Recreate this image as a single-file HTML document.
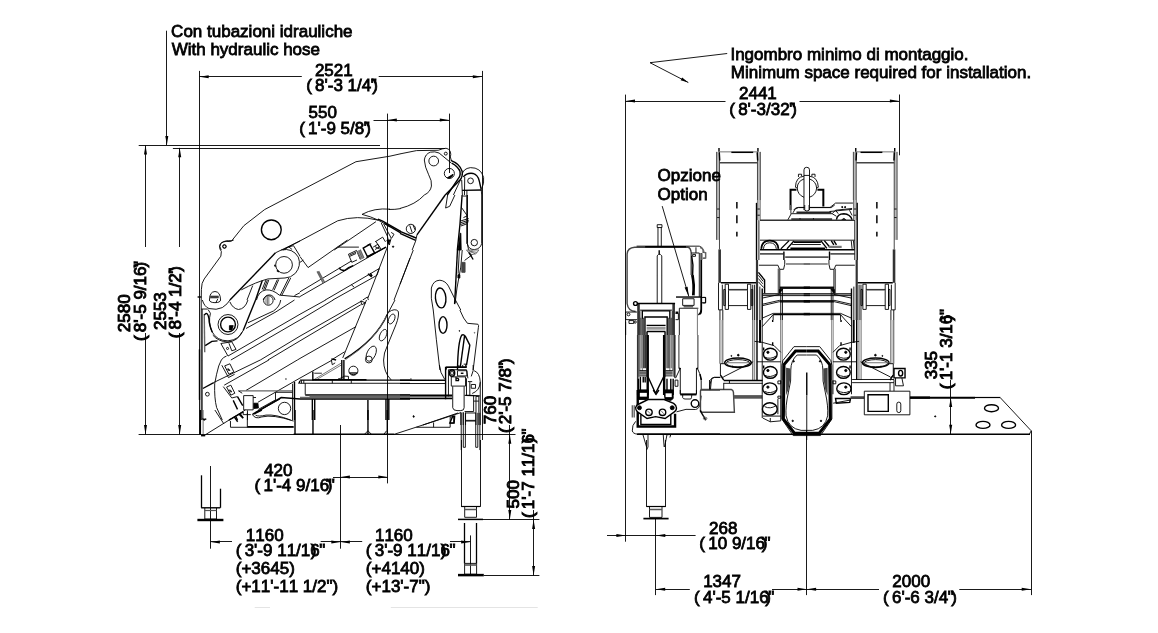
<!DOCTYPE html>
<html><head><meta charset="utf-8"><title>Dimensions</title>
<style>
html,body{margin:0;padding:0;background:#fff;overflow:hidden}
svg{display:block;will-change:transform}
text{font-family:"Liberation Sans",Arial,Helvetica,sans-serif;fill:#000;stroke:#000;stroke-width:0.8px;white-space:pre;font-kerning:none;font-variant-ligatures:none}
path,line,circle,ellipse,rect,polyline,polygon{fill:none;stroke:#000;stroke-width:0.9;vector-effect:non-scaling-stroke}
.k path,.k circle,.k ellipse,.k rect,.k polyline,path.k,circle.k,ellipse.k,rect.k,polyline.k{stroke-width:1.4}
text.r{stroke-width:0.92px}
.f{fill:#000 !important}
path.a{fill:#000;stroke:none}
.w{fill:#fff !important}
.g{stroke:#666 !important}
</style></head><body>
<svg width="1158" height="633" viewBox="0 0 1158 633">
<rect x="0" y="0" width="1158" height="633" style="fill:#fff;stroke:none"/>
<g id="tiles">
<g transform="translate(610 215) scale(0.094991)">
<path d="M180 632 L180 410 Q185 345 260 340 L820 340 Q850 345 855 400 L855 632" class="k" style="stroke:#444"/>
<path d="M280 328 L940 328 Q975 335 980 370 L980 400"/>
<path d="M370 335 L800 335" class="k"/>
<path d="M505 335 L505 130 M540 130 L540 335"/>
<path d="M497 102 L547 102 L547 132 L497 132Z"/>
<path d="M497 632 L497 430 L510 415 L530 415 L545 430 L545 632"/>
<path d="M518 370 L518 410" class="k"/>
<path d="M905 340 L905 400 M855 400 L940 400 L940 632 M980 395 L1005 395 L1005 455 L980 455"/>
<path d="M960 400 L960 632" class="k"/>
<path d="M870 415 L900 415 L900 435 L870 435Z"/>
<path d="M860 430 Q882 530 870 632" class="k"/>
</g>

<g transform="translate(610 275) scale(0.094991)">
<path d="M180 0 L180 300 Q190 380 270 385" class="k" style="stroke:#444"/>
<path d="M497 0 L497 295 M545 0 L545 295"/>
<path d="M695 232 L960 232" class="k"/>
<path d="M765 250 L885 250 L885 320 L765 320Z M730 350 L930 350 M775 335 L875 335"/>
<path d="M730 350 L730 632"/>
<path d="M920 350 L920 632" class="g"/>
<path d="M860 0 Q882 100 870 215 M875 0 Q895 100 885 215" class="k"/>
<path d="M940 0 L940 230"/>
<path d="M960 0 L960 350 Q960 400 930 420" class="k"/>
<path d="M975 235 L1005 235 L1005 295 L975 295"/>
<path d="M300 632 L300 300 M670 300 L670 632" style="stroke-width:2.6;stroke:#333"/>
<path d="M285 300 L685 300" class="k"/>
<path d="M315 370 L655 370"/>
<path d="M340 632 L340 378 L630 378 L630 632" class="k"/>
<path d="M368 632 L368 442 L602 442 L602 632" class="k"/>
<path d="M385 560 L585 560" style="stroke-width:3;stroke:#999"/>
<path d="M385 530 L585 530 M385 595 L585 595" class="k"/>
<circle cx="268" cy="300" r="20" class="k"/>
<circle cx="195" cy="415" r="15"/>
<path d="M285 390 L165 390 L165 470 L285 470"/>
<path d="M200 480 L250 480 L250 510 L200 510Z"/>
<circle cx="265" cy="495" r="12"/>
<path d="M165 490 L165 632"/>
<path d="M690 395 L720 395" style="stroke-width:2"/>
<path d="M690 405 L720 405 L720 470 L690 470"/>
<path d="M315 380 L315 632 M325 450 L325 632 M352 450 L352 632 M385 600 L385 632 M395 600 L395 632 M655 380 L655 632 M645 450 L645 632 M618 450 L618 632 M585 600 L585 632 M575 600 L575 632" style="stroke:#222"/>
<path d="M345 460 L345 632 M628 460 L628 632" style="stroke:#555;stroke-width:2"/>
</g>

<g transform="translate(610 335) scale(0.094991)">
<path d="M292 0 L292 632 M682 0 L682 450" style="stroke-width:1.6;stroke:#333"/>
<path d="M315 0 L315 380 M340 0 L340 380 M660 0 L660 380 M630 0 L630 380" class="g"/>
<path d="M328 0 L328 350 M645 0 L645 350" style="stroke:#888;stroke-width:1.6"/>
<path d="M375 0 L375 350 M600 0 L600 350" />
<path d="M397 0 L397 632 M570 0 L570 632" style="stroke-width:2.4"/>
<path d="M310 400 L390 400 M580 400 L660 400" style="stroke-width:3.4;stroke:#666"/>
<path d="M310 375 L390 375 M580 375 L660 375 M310 430 L390 430 M580 430 L660 430" />
<path d="M400 440 L480 615 L565 440" class="k"/>
<path d="M320 440 L320 580 M350 440 L350 500 M370 440 L370 500 M600 460 L600 580 M640 460 L640 580" class="k"/>
<path d="M300 585 L395 585 M570 585 L665 585" class="k"/>
<path d="M300 460 L300 632 M665 460 L665 632" class="k"/>
<path d="M725 0 L725 350 M925 0 L925 350" class="g" style="stroke-width:1.4"/>
<path d="M740 350 L740 620 M910 350 L910 620 M690 455 L740 350"/>
<path d="M740 626 L910 626" style="stroke-width:2"/>
<path d="M920 350 Q950 400 960 480 L960 580 L1158 580"/>
<path d="M1050 580 Q1050 450 1100 445 L1158 445"/>
<path d="M685 475 L715 475 L715 540 L685 540Z"/>
<circle cx="735" cy="352" r="6" class="f"/><circle cx="918" cy="352" r="6" class="f"/>
<path d="M305 0 L305 440 M352 0 L352 350 M362 0 L362 350 M386 0 L386 440 M582 0 L582 440 M612 0 L612 350 M622 0 L622 350 M672 0 L672 440" style="stroke:#222"/>
</g>

<g transform="translate(610 390) scale(0.094991)">
<path d="M292 0 L292 385 L685 385 L685 250" style="stroke-width:2.4"/>
<path d="M325 260 L325 362 L640 362 L640 260" class="k"/>
<path d="M295 0 L405 0 L405 90 L380 100 L300 100 Z" class="f"/>
<path d="M314 30 L388 30 L388 70 L314 70Z" class="w" style="stroke:none"/>
<path d="M565 0 L665 0 L665 90 L640 110 L580 100Z" class="f"/>
<path d="M585 35 L650 35 L650 75 L585 75Z" class="w" style="stroke:none"/>
<path d="M455 0 L485 45 L515 0" class="k"/>
<path d="M270 185 Q275 160 300 150 L400 100 L570 100 L670 140 Q700 160 700 190 Q700 220 670 235 L580 300 L480 280 L390 300 L290 230 Q268 210 270 185Z" class="w k"/>
<circle cx="310" cy="187" r="21" class="f"/><circle cx="655" cy="187" r="21" class="f"/>
<circle cx="410" cy="235" r="34" class="k"/><circle cx="553" cy="235" r="34" class="k"/>
<path d="M395 220 L425 250 M540 220 L565 250" class="g"/>
<path d="M235 160 L235 290 M255 160 L255 290" class="k g"/>
<path d="M270 330 Q230 370 235 430 Q240 460 290 465"/>
<path d="M740 0 L740 45 L910 45 L910 0 M765 45 L765 80 Q770 95 790 95 L850 95 Q860 90 862 45"/>
<circle cx="895" cy="143" r="40" class="k"/>
<path d="M700 230 Q800 190 900 205 Q940 200 950 140 L960 60"/>
<path d="M345 465 L385 600 M400 465 L400 600 L385 632 M560 465 L570 600 M600 470 L575 600 M600 470 L640 470 L630 500"/>
<path d="M290 465 L1158 465" style="stroke-width:1.4"/>
</g>

<g transform="translate(190 140) scale(0.173762)">
<path d="M1209 80 L1151 93 L955 125 L430 400 L310 493 L240 580 Q200 575 178 595 Q165 615 180 633"/>
<circle cx="198" cy="612" r="10"/>
<circle cx="468" cy="517" r="57" class="k"/>
<path d="M1151 398 Q1060 390 990 428 Q1040 440 1085 462 L1151 500"/>
<path d="M1085 462 Q960 430 850 465 L535 633"/>
<path d="M1070 470 L830 633"/>
</g>

<g transform="translate(400 140) scale(0.086881)">
<path d="M0 160 L190 122 L440 118 Q490 98 530 95 Q565 100 578 130 Q590 165 580 195 L590 235"/>
<circle cx="527" cy="157" r="17"/>
<path d="M590 265 L450 150 Q400 128 350 140 Q290 160 280 230 Q285 310 330 400 Q370 470 362 530 Q350 600 280 633"/>
<circle cx="388" cy="242" r="56"/>
<circle cx="568" cy="385" r="58"/>
<path d="M545 435 L610 395 L600 420 L570 440Z" class="f"/>
<path d="M585 235 Q690 275 715 360 Q725 420 690 460 L520 633" class="k"/>
<path d="M595 265 Q665 300 690 360 Q700 410 670 445 L545 633" class="k"/>
<path d="M700 450 L615 633"/>
<path d="M715 400 Q725 330 810 318 Q930 315 962 430 Q972 500 940 560"/>
<path d="M728 425 Q770 375 840 385 Q895 400 912 470 L935 570" class="k"/>
<circle cx="812" cy="470" r="33"/>
<path d="M745 425 L742 633 M710 460 L718 633 M770 578 L770 633 M935 570 L940 633"/>
<path d="M715 580 L940 575" class="k"/>
</g>

<g transform="translate(400 195) scale(0.086881)">
<path d="M280 0 Q180 110 0 155"/>
<path d="M520 0 L195 460" class="k"/>
<path d="M195 460 L180 530 L140 633"/>
<circle cx="125" cy="390" r="53"/>
<path d="M112 350 L140 432 M150 345 L172 400"/>
<path d="M0 418 L185 495 M0 442 L180 522" class="k"/>
<path d="M548 0 L525 150 L572 130 L632 0"/>
<path d="M715 0 L690 340 L660 633" class="k"/>
<path d="M775 0 L775 560 Q790 633 860 628 Q925 620 940 560 L940 0" />
<path d="M772 0 L772 560" class="k"/>
<circle cx="855" cy="548" r="37"/>
<path d="M720 12 L765 12 M705 140 L775 240 M730 260 L775 240"/>
<path d="M695 300 L790 270 M695 320 L792 290 M695 340 L790 308 M700 357 L770 332" />
<path d="M694 440 L668 633 L704 633 L700 440Z" class="f"/>
<path d="M775 560 L790 633"/>
</g>

<g transform="translate(190 240) scale(0.094991)">
<path d="M460 0 Q420 25 380 15 Q320 20 310 60 Q310 100 330 120 L325 170 L150 410 Q120 450 120 520 L118 632"/>
<circle cx="363" cy="70" r="17"/>
<path d="M1158 10 L900 135"/><path d="M900 135 L420 632" class="k"/>
<path d="M960 105 Q1080 80 1140 180 Q1175 270 1110 350 Q1060 400 1000 400 L820 410 Q700 440 540 525"/>
<path d="M1040 72 L1090 60 L1158 170 M1000 95 L1040 72 L1075 100"/>
<circle cx="990" cy="262" r="88"/>
<path d="M890 260 L900 280 M915 320 L935 335" class="k"/>
<path d="M800 420 L760 520 M815 420 L775 525 M830 420 L790 525 M920 415 L870 525 M935 415 L885 530 M1040 400 L950 580 M1060 400 L965 585"/>
<path d="M760 430 L690 632" class="k"/>
<path d="M660 480 L600 632"/>
<path d="M700 632 Q720 540 800 525 Q870 520 940 580 L1158 600"/>
<path d="M770 632 Q790 580 835 578 Q880 580 895 632"/>
<path d="M205 632 Q205 545 263 542 Q320 545 322 632"/>
<path d="M210 590 L300 590 L300 610 L210 610Z" class="f g"/>
<path d="M80 600 L120 600" class="k"/>
<path d="M1158 555 L1100 585"/>
</g>

<g transform="translate(300 240) scale(0.094991)">
<path d="M500 0 L85 290 L0 175"/>
<path d="M395 75 L620 75"/>
<path d="M0 235 L35 212"/>
<path d="M925 60 L715 610 M1158 190 L990 632"/>
<path d="M0 545 L540 222"/>
<path d="M0 595 L905 75"/>
<path d="M415 290 Q420 320 470 320 Q500 290 560 270" class="k"/>
<path d="M265 632 L835 300 M345 632 L810 372 M835 300 L810 372"/>
<path d="M715 355 L755 390 M740 350 L760 380" class="k"/>
<path d="M540 470 L570 497"/>
<path d="M180 330 L245 455 M195 328 L258 445" class="k g"/>
<path d="M510 150 L595 110 L635 205 M510 150 L545 235 L600 210"/>
<path d="M520 160 L590 128 M525 172 L590 142"/>
<path d="M603 115 L643 205 M618 108 L658 198 M633 101 L673 191" class="k g"/>
<path d="M665 85 L735 45 L785 135 L710 175 Z" class="k"/>
<path d="M770 75 L820 45 L855 100 M800 15 L835 75 L790 100 M790 70 L840 95"/>
<path d="M700 185 L905 75" class="k"/>
<circle cx="980" cy="70" r="7" class="f"/>
<path d="M915 0 L950 0 L930 45 Z" class="f"/>
<path d="M660 632 L710 600 L720 632"/>
</g>

<g transform="translate(400 250) scale(0.094991)">
<path d="M140 0 L0 360"/>
<path d="M605 0 L575 570" class="k"/>
<path d="M655 0 L640 180 L600 400 L580 560"/>
<path d="M625 0 L612 250"/>
<path d="M650 130 L685 130 L685 235 L650 235Z" class="f" style="fill:#444 !important;stroke:#444"/>
<path d="M610 260 L630 260 L630 295 L610 295Z" class="f"/>
<path d="M700 0 L830 0 L800 40 L740 50Z" class="g"/>
<path d="M710 10 L810 25 M720 0 L790 40 M760 0 L740 45" class="g"/>
<path d="M725 25 L770 100" class="k"/>
<path d="M680 110 L760 50"/>
<path d="M350 632 Q320 500 330 400 Q350 320 420 318 Q480 325 510 380 L580 520 L640 632"/>
<ellipse cx="428" cy="505" rx="55" ry="105" transform="rotate(-5 428 505)" class="k"/>
</g>

<g transform="translate(190 300) scale(0.094991)">
<path d="M118 0 L118 632 M128 95 L128 632"/>
<path d="M118 95 L185 95"/>
<path d="M203 0 Q210 28 263 28 Q318 28 322 0"/>
<path d="M292 -10 L272 28"/>
<path d="M130 0 Q150 70 200 90 Q280 110 340 80 Q400 40 420 0"/>
<path d="M420 20 Q450 90 510 100 Q580 95 610 0"/>
<path d="M690 0 L560 320" class="k"/>
<path d="M560 320 Q520 420 400 430 Q280 430 230 330 Q190 230 215 140 L190 100"/>
<path d="M545 340 Q500 435 400 442 Q300 440 240 370" />
<circle cx="400" cy="258" r="105"/>
<circle cx="400" cy="258" r="78" class="k"/>
<path d="M415 270 L455 270 L440 315 L415 315Z" class="f"/>
<path d="M150 150 L155 550" class="k g"/>
<path d="M150 160 Q185 110 200 200 Q200 260 235 340" class="k"/>
<path d="M160 480 L230 435 L290 430" class="k"/>
<path d="M325 458 L400 590 M325 458 L440 440 L485 520 L440 535 L410 455"/>
<circle cx="395" cy="510" r="11"/>
<path d="M955 0 Q945 70 880 115 L610 240"/>
<circle cx="825" cy="5" r="50"/>
<path d="M800 -30 L800 40 M815 -40 L815 50 M830 -40 L830 50" class="g"/>
<path d="M590 300 L905 125 L1100 0"/>
<path d="M400 590 L1158 150 M430 632 L1158 210 M740 632 L1158 380 M820 632 L1158 430 M1130 632 L1158 615"/>
<path d="M330 632 Q350 600 385 590"/>
<path d="M100 520 L100 632" class="k"/>
</g>

<g transform="translate(300 300) scale(0.094991)">
<path d="M0 150 L270 0 M0 210 L350 0 M0 380 L650 10 M0 430 L640 50 M0 615 L590 280"/>
<path d="M640 10 L690 30 L650 50Z"/>
<path d="M700 0 L450 610"/>
<path d="M330 632 L470 545"/>
<path d="M920 150 Q800 420 470 620" class="k"/>
<path d="M910 170 Q790 430 480 628" class="g"/>
<path d="M1000 0 L920 150"/>
<path d="M930 130 Q1000 80 1035 120 Q1045 170 1010 260 L920 480 Q880 560 880 632"/>
<ellipse cx="965" cy="200" rx="30" ry="55" transform="rotate(25 965 200)"/>
<ellipse cx="875" cy="370" rx="33" ry="65" transform="rotate(25 875 370)"/>
<ellipse cx="750" cy="565" rx="45" ry="85" transform="rotate(25 750 565)"/>
<path d="M330 620 L380 632" class="k"/>
</g>

<g transform="translate(400 310) scale(0.094991)">
<path d="M350 0 Q380 300 420 632"/>
<path d="M630 0 Q670 100 710 140 L820 150 Q832 160 825 185 L770 632"/>
<ellipse cx="453" cy="158" rx="42" ry="88" class="k"/>
<circle cx="625" cy="220" r="4" class="f"/><circle cx="785" cy="240" r="4" class="f g"/>
<path d="M605 632 Q610 330 650 265 Q670 250 690 280 L735 370 L700 580" class="k"/>
<path d="M680 270 L635 600" class="k"/>
<path d="M480 632 L490 602 L700 600" class="k"/>
<path d="M670 570 L695 570 L695 598"/>
</g>

<g transform="translate(400 365) scale(0.094991)">
<path d="M415 0 Q420 80 470 150"/>
<path d="M770 0 Q780 60 750 120"/>
<path d="M780 60 Q840 80 845 180 Q840 270 760 300"/>
<path d="M0 160 L480 160" class="k"/>
<path d="M0 195 L480 195"/>
<path d="M0 318 L550 318 M0 352 L550 352" class="k"/>
<path d="M0 335 L550 335" class="k g"/>
<path d="M115 140 L115 165"/>
<path d="M480 360 L480 25 L700 25" class="k"/>
<path d="M510 330 L510 50 L700 50 L715 140"/>
<ellipse cx="548" cy="85" rx="28" ry="35" class="k"/>
<ellipse cx="548" cy="85" rx="15" ry="22"/>
<path d="M605 60 L705 60 L705 115 L605 115Z"/>
<path d="M640 87 L668 87" class="k"/>
<path d="M555 225 L555 450 Q560 480 600 480 L640 480 Q675 480 675 450 L675 225"/>
<path d="M540 125 L690 125 L690 222 L540 222Z"/>
<path d="M590 135 Q625 140 615 165 L590 165Z" class="k"/>
<path d="M680 320 L775 320 L775 490 L680 490 M800 330 L830 330 L830 500 M800 330 L800 500 M775 380 L830 380"/>
<path d="M690 320 L840 325" class="k"/>
<path d="M750 205 L795 205 L795 245 L750 245Z"/>
<path d="M700 140 L700 320 M735 180 L735 320 M715 175 L760 175"/>
<path d="M620 0 L620 22 M660 0 L660 22 M690 0 L700 25"/>
<path d="M640 495 L640 632 M665 495 L665 632 M690 500 L690 632 M800 500 L800 632 M830 500 L830 632 M690 590 L800 590 M690 505 L800 505"/>
<path d="M240 632 L610 505"/>
<path d="M525 610 L555 540 L575 540 L570 610Z" class="k"/>
<circle cx="145" cy="545" r="5" class="f"/>
<path d="M845 180 L845 632"/>
</g>

<g transform="translate(190 360) scale(0.094991)">
<path d="M100 0 L100 420" class="k"/>
<path d="M128 0 L128 632 M118 0 L118 632"/>
<path d="M330 0 Q300 50 280 150 L260 250 Q255 400 280 500 L340 632"/>
<path d="M135 300 L250 237" class="k"/>
<path d="M250 237 L740 0 M830 0 L360 265 M1130 0 L590 320 M1158 190 L715 445"/>
<path d="M335 55 L405 185 L470 150 M365 62 L420 40 L462 125 L410 150 Z"/>
<path d="M385 100 Q410 80 420 110 Q400 120 405 95" />
<path d="M350 280 L440 400 L500 385 M385 285 L430 265 L472 350 L430 370Z"/>
<path d="M400 320 Q430 305 440 335 Q420 345 420 320"/>
<path d="M455 425 L500 520 M500 385 L555 480" class="k"/>
<path d="M565 375 L665 375 L665 525 L565 525Z M665 395 L695 395"/>
<path d="M672 455 L715 455 L720 505 L672 510Z" class="f"/>
<path d="M510 325 L1080 325" class="k g"/>
<path d="M510 325 L550 350"/>
<path d="M1100 230 L1100 632" class="k"/>
<path d="M1080 250 L1080 632"/>
<circle cx="1010" cy="200" r="5" class="f g"/>
<path d="M1158 220 L1145 250" class="k"/>
<circle cx="995" cy="510" r="65"/>
<path d="M660 570 L960 395 L1158 410" class="k"/>
<path d="M690 555 L950 410"/>
<path d="M690 580 Q720 600 800 580 Q900 570 1060 632"/>
<path d="M900 340 L900 420 L720 520 M900 340 L1080 340"/>
<path d="M410 632 L560 545 M480 590 L500 632 M530 570 L560 610" class="k"/>
<path d="M560 545 L560 575 L640 575 M605 530 L605 632"/>
<circle cx="183" cy="360" r="20"/>
<path d="M130 615 L160 632" class="k"/>
</g>

<g transform="translate(300 360) scale(0.094991)">
<path d="M0 190 L340 0"/>
<path d="M150 205 L430 35 M165 212 L440 50" class="g"/>
<path d="M135 120 L135 215" class="k"/>
<path d="M150 140 L230 140" class="k g"/>
<path d="M440 0 L440 210 M462 0 L462 210" class="k"/>
<path d="M400 200 L420 195 L470 170 L510 172 L510 200"/>
<path d="M330 0 L340 50 L370 30"/>
<circle cx="562" cy="113" r="48"/>
<path d="M520 135 Q560 175 605 135Z" class="f" style="fill:#888 !important"/>
<circle cx="725" cy="-5" r="36"/>
<path d="M880 0 Q880 130 960 210"/>
<path d="M0 212 L1158 212" class="k"/>
<path d="M130 208 L700 208" class="k"/>
<path d="M0 245 L1158 245"/>
<path d="M40 212 L40 245 M340 212 L340 245 M540 212 L540 245 M15 212 L15 245"/>
<path d="M55 245 L55 365"/>
<path d="M55 368 L1158 368" class="k"/>
<path d="M100 382 L1158 382" class="k g"/>
<path d="M0 393 L1158 393" class="k g"/>
<path d="M0 410 L1158 410" class="k"/>
<path d="M130 410 L130 632 M155 410 L155 632 M715 420 L715 632 M905 410 L905 632 M935 410 L935 632" class="k"/>
</g>

<g transform="translate(190 410) scale(0.138169)">
<path d="M75 0 L75 178" class="k"/>
<path d="M95 0 L95 178" class="g"/>
<path d="M180 0 L245 100 M110 180 L400 0"/>
<path d="M320 50 L345 85 M355 30 L385 60" class="k"/>
<path d="M293 80 L293 125 L750 125 M415 20 L415 125"/>
<path d="M415 121 L750 121" class="k"/>
<path d="M450 30 Q470 70 520 50 Q600 30 750 80"/>
<path d="M460 30 L520 0" class="k"/>
<path d="M760 0 L760 175 M890 0 L890 175" class="k"/>
<path d="M95 72 L118 64" class="k"/>
<path d="M750 176 L1158 176" class="k"/>
<path d="M80 186 L110 186" class="k"/>
</g>

<g transform="translate(350 410) scale(0.138169)">
<path d="M130 0 L130 175 M270 0 L270 175" class="k"/>
<path d="M0 176 L320 176" class="k"/>
<path d="M105 176 L130 150 L155 176 M245 176 L265 150"/>
<path d="M320 176 L800 20"/>
<path d="M480 125 L725 125 L725 90 M605 90 L605 125 M725 50 L750 50 L750 95 L725 95Z"/>
<circle cx="460" cy="45" r="4" class="f"/>
<path d="M805 20 L805 290 M940 20 L940 290"/>
<path d="M820 20 L820 270 L835 270 L835 20 M910 20 L910 270 L925 270 L925 20"/>
<path d="M835 75 L910 75"/>
</g>

<g transform="translate(340 185) scale(0.094787)">
<path d="M515 258 Q580 260 640 249"/>
<path d="M400 360 L450 382 L640 490" class="k"/>
<path d="M470 405 L640 505" class="k"/>
<path d="M435 400 L500 540 L520 633 M460 410 L540 560 L520 633 M540 500 L570 520 L545 560"/>
<path d="M370 600 L450 550 L480 600 M290 633 L330 620"/>
</g>

<g transform="translate(770 160) scale(0.079017)">
<path d="M430 633 L430 125 Q430 92 465 92 Q500 92 500 125 L500 633" class="w"/>
<path d="M430 195 L500 195"/>
<path d="M322 345 Q325 215 430 205 M500 205 Q605 215 612 345"/>
<path d="M430 240 Q345 270 345 355 Q350 440 430 472 M500 240 Q585 270 590 355 Q585 440 500 472"/>
<path d="M322 345 L345 355 M612 345 L590 355"/>
<path d="M360 215 L360 180 L400 180 L400 205 M530 205 L530 180 L570 180 L570 215"/>
<path d="M260 633 L260 378 L335 378" style="stroke-width:2"/>
<path d="M600 378 L675 378 L675 590" style="stroke-width:2"/>
<path d="M300 633 Q320 600 360 600 L430 600 M500 600 L760 600 L830 545 L1050 545"/>
<circle cx="915" cy="598" r="5" class="f"/><circle cx="950" cy="598" r="5" class="f"/>
</g>

<g transform="translate(700 140) scale(0.094991)">
<path d="M190 125 L190 632" style="stroke:#bbb;stroke-width:2.4"/>
<path d="M620 125 L620 632" style="stroke:#bbb;stroke-width:2.4"/>
<path d="M175 125 L175 632 M205 125 L205 632 M605 125 L605 632 M635 125 L635 632" style="stroke:#333"/>
<path d="M200 85 L200 125 M610 85 L610 125" class="k"/>
<path d="M203 130 L208 215 M602 130 L607 215" class="k"/>
<path d="M205 125 L605 125" class="g"/>
<path d="M330 130 L560 130" class="k"/>
<path d="M205 240 L605 240" class="k" style="stroke:#444"/>
</g>
<g transform="translate(1613.7 0) scale(-1 1) translate(700 140) scale(0.094991)">
<path d="M190 125 L190 632" style="stroke:#bbb;stroke-width:2.4"/>
<path d="M620 125 L620 632" style="stroke:#bbb;stroke-width:2.4"/>
<path d="M175 125 L175 632 M205 125 L205 632 M605 125 L605 632 M635 125 L635 632" style="stroke:#333"/>
<path d="M200 85 L200 125 M610 85 L610 125" class="k"/>
<path d="M203 130 L208 215 M602 130 L607 215" class="k"/>
<path d="M205 125 L605 125" class="g"/>
<path d="M330 130 L560 130" class="k"/>
<path d="M205 240 L605 240" class="k" style="stroke:#444"/>
</g>

<g transform="translate(700 200) scale(0.094991)">
<path d="M0 500 Q40 510 40 550 L60 555 L60 610 L30 615 M20 560 L20 632" class="k g"/>
</g>

<g transform="translate(760 205) scale(0.086881)">
<path d="M355 0 L355 100" class="k g"/>
<path d="M320 172 L360 100 L830 100 L870 60 L1060 40"/>
<path d="M380 90 Q400 30 440 30 L820 30 L860 0"/>
<path d="M420 86 L820 86" style="stroke-width:2;stroke:#222"/>
<path d="M360 162 L830 162" style="stroke-width:1.8;stroke:#333"/>
<path d="M460 150 L460 175 M615 150 L615 175"/>
<path d="M515 0 L515 60 Q540 80 565 60 L565 0" class="w"/>
<path d="M880 170 Q890 100 965 100 Q1040 105 1060 170" class="k"/>
<path d="M940 172 Q965 140 990 172Z" class="f"/>
<path d="M830 100 L880 130 M800 75 L1060 50 M870 60 L900 100 M1030 60 L1060 120"/>
<circle cx="945" cy="22" r="5" class="f"/><circle cx="980" cy="22" r="5" class="f"/>
<path d="M0 176 L1090 176" class="k" style="stroke:#333"/>
<path d="M0 405 L1090 405"/>
<path d="M15 505 Q20 410 113 410 Q205 410 212 505" style="stroke-width:1.8"/><path d="M40 505 Q45 435 113 435 Q180 435 188 505"/>
<path d="M240 505 L335 410 M310 505 L390 415" class="k"/>
<path d="M390 427 L700 427" style="stroke-width:1.8"/>
<path d="M350 497 L750 497" style="stroke-width:1.6"/>
<path d="M700 410 L770 500 M740 410 L800 480" class="k"/>
<path d="M370 455 L700 455"/>
<path d="M790 482 L940 482" style="stroke-width:2.2;stroke:#777"/>
<path d="M820 410 L850 460 M850 410 L880 460" class="k"/>
<path d="M1050 410 L1060 505 M1075 410 L1085 505"/>
<path d="M0 515 L1090 515" class="k"/>
<path d="M0 562 L270 562 M810 562 L1090 562" style="stroke-width:1.8;stroke:#555"/>
<path d="M275 535 L275 633 M800 535 L800 633" class="k"/>
<path d="M290 600 L790 600" style="stroke-width:1.8;stroke:#555"/>
</g>

<g transform="translate(700 200) scale(0.094991)">
<path d="M190 0 L190 420" style="stroke:#bbb;stroke-width:2.4"/>
<path d="M175 0 L175 420 M205 0 L205 520 M605 0 L605 210 M632 0 L632 210" style="stroke:#333"/>
<path d="M180 95 L205 95 M180 185 L205 185"/>
<path d="M207 520 L207 632" style="stroke:#333;stroke-width:2.6"/>
<path d="M388 20 L388 90 M388 160 L388 245 M388 335 L388 385" style="stroke:#222;stroke-width:1.7"/>
<path d="M595 30 L595 632" class="k"/>
<path d="M618 0 L618 210" style="stroke:#bbb;stroke-width:2.4"/>
<path d="M605 95 L630 95 M605 160 L630 160"/>
<path d="M620 212 L620 632"/>
</g>
<g transform="translate(1613.7 0) scale(-1 1) translate(700 200) scale(0.094991)">
<path d="M190 0 L190 420" style="stroke:#bbb;stroke-width:2.4"/>
<path d="M175 0 L175 420 M205 0 L205 520 M605 0 L605 210 M632 0 L632 210" style="stroke:#333"/>
<path d="M180 95 L205 95 M180 185 L205 185"/>
<path d="M207 520 L207 632" style="stroke:#333;stroke-width:2.6"/>
<path d="M388 20 L388 90 M388 160 L388 245 M388 335 L388 385" style="stroke:#222;stroke-width:1.7"/>
<path d="M595 30 L595 632" class="k"/>
<path d="M618 0 L618 210" style="stroke:#bbb;stroke-width:2.4"/>
<path d="M605 95 L630 95 M605 160 L630 160"/>
<path d="M620 212 L620 632"/>
</g>

<g transform="translate(700 260) scale(0.094991)">
<path d="M620 55 L820 55 L838 98 L880 98 L892 45 L892 0"/>
<path d="M905 42 L1158 42" class="k g"/>
<path d="M825 90 L825 350" class="k g"/>
<path d="M840 100 L840 350"/>
<path d="M840 287 L1158 287" class="k"/>
<path d="M840 300 L1158 300"/>
<path d="M835 310 L870 310 L835 350Z" class="f"/>
<path d="M660 357 L1158 357" class="k"/>
<path d="M660 375 L1158 375"/>
<path d="M840 440 L1158 440" class="k"/>
<path d="M840 427 L1158 427"/>
<path d="M660 400 L840 362 M660 480 L840 438 M660 465 L840 424"/>
<path d="M770 575 L1158 575" class="k"/>
<path d="M770 562 L1158 562"/>
<path d="M660 610 L770 562 M720 632 L770 575 L770 632"/>
<path d="M655 300 L655 632" class="k"/>
<path d="M630 280 L630 632 M850 300 L850 632 M868 300 L868 632"/>
</g>
<g transform="translate(1613.7 0) scale(-1 1) translate(700 260) scale(0.094991)">
<path d="M620 55 L820 55 L838 98 L880 98 L892 45 L892 0"/>
<path d="M905 42 L1158 42" class="k g"/>
<path d="M825 90 L825 350" class="k g"/>
<path d="M840 100 L840 350"/>
<path d="M840 287 L1158 287" class="k"/>
<path d="M840 300 L1158 300"/>
<path d="M835 310 L870 310 L835 350Z" class="f"/>
<path d="M660 357 L1158 357" class="k"/>
<path d="M660 375 L1158 375"/>
<path d="M840 440 L1158 440" class="k"/>
<path d="M840 427 L1158 427"/>
<path d="M660 400 L840 362 M660 480 L840 438 M660 465 L840 424"/>
<path d="M770 575 L1158 575" class="k"/>
<path d="M770 562 L1158 562"/>
<path d="M660 610 L770 562 M720 632 L770 575 L770 632"/>
<path d="M655 300 L655 632" class="k"/>
<path d="M630 280 L630 632 M850 300 L850 632 M868 300 L868 632"/>
</g>

<g transform="translate(700 260) scale(0.094991)">
<path d="M15 0 L15 520 Q15 560 0 570" class="k"/>
<path d="M20 395 L60 395 L60 450 L20 450"/>
<path d="M615 130 L680 210 L680 350" class="k"/>
<path d="M615 160 L665 225 M615 195 L660 250 M615 230 L670 290"/>
</g>

<g transform="translate(700 260) scale(0.094991)">
<path d="M207 0 L207 240" style="stroke:#333;stroke-width:2.6"/>
<path d="M600 0 L600 632" style="stroke:#333;stroke-width:2.2"/>
<path d="M220 240 L590 240" class="k"/>
<path d="M195 240 L195 525 L235 525 L235 260"/>
<path d="M250 310 L250 480 L265 480 L265 310Z M540 310 L555 310 L555 480 L540 480Z"/>
<path d="M265 255 L300 255 L300 520 L265 520Z M500 255 L535 255 L535 520 L500 520Z"/>
<path d="M300 310 L500 310 M300 480 L500 480"/>
<path d="M300 318 L500 318" class="g"/>
<path d="M210 525 L210 632 M240 525 L240 632 M555 260 L555 632 M575 260 L575 632"/>
</g>
<g transform="translate(1613.7 0) scale(-1 1) translate(700 260) scale(0.094991)">
<path d="M207 0 L207 240" style="stroke:#333;stroke-width:2.6"/>
<path d="M600 0 L600 632" style="stroke:#333;stroke-width:2.2"/>
<path d="M220 240 L590 240" class="k"/>
<path d="M195 240 L195 525 L235 525 L235 260"/>
<path d="M250 310 L250 480 L265 480 L265 310Z M540 310 L555 310 L555 480 L540 480Z"/>
<path d="M265 255 L300 255 L300 520 L265 520Z M500 255 L535 255 L535 520 L500 520Z"/>
<path d="M300 310 L500 310 M300 480 L500 480"/>
<path d="M300 318 L500 318" class="g"/>
<path d="M210 525 L210 632 M240 525 L240 632 M555 260 L555 632 M575 260 L575 632"/>
</g>

<g transform="translate(700 320) scale(0.094991)">
<path d="M210 0 L210 460 M240 0 L240 460 M555 0 L555 632 M575 0 L575 632 M850 0 L850 632 M865 0 L865 632" style="stroke:#333"/>
<path d="M225 0 L225 460 M565 0 L565 632 M858 0 L858 632" style="stroke:#ccc;stroke-width:1.6"/>
<path d="M600 0 L600 632" class="k"/>
<path d="M632 0 L632 240" style="stroke-width:2"/>
<path d="M655 0 L655 632"/>
<path d="M655 70 L720 0"/>
<path d="M765 0 L765 20 M765 235 L765 265" class="k"/>
<path d="M575 225 L655 235 L780 270 L850 340"/>
<path d="M600 440 L850 440"/>
<ellipse cx="740" cy="360" rx="72" ry="62" class="k"/>
<path d="M680 390 Q740 420 800 380"/>
<circle cx="715" cy="340" r="12" class="f"/>
<ellipse cx="740" cy="552" rx="72" ry="62" class="k"/>
<path d="M680 582 Q740 612 800 572"/>
<circle cx="715" cy="532" r="12" class="f"/>
<path d="M670 290 L670 320 M670 480 L670 510" class="k"/>
<ellipse cx="400" cy="450" rx="140" ry="50" class="k"/>
<ellipse cx="400" cy="455" rx="125" ry="38"/>
<path d="M265 450 L535 450" class="g"/>
<circle cx="330" cy="378" r="5" class="f"/><circle cx="403" cy="370" r="9" class="f"/><circle cx="345" cy="490" r="6" class="f"/>
<path d="M215 460 L215 580 L245 610 M245 600 L560 440 M215 460 L260 460"/>
<path d="M215 580 L250 632" class="k"/>
</g>
<g transform="translate(1613.7 0) scale(-1 1) translate(700 320) scale(0.094991)">
<path d="M210 0 L210 460 M240 0 L240 460 M555 0 L555 632 M575 0 L575 632 M850 0 L850 632 M865 0 L865 632" style="stroke:#333"/>
<path d="M225 0 L225 460 M565 0 L565 632 M858 0 L858 632" style="stroke:#ccc;stroke-width:1.6"/>
<path d="M600 0 L600 632" class="k"/>
<path d="M632 0 L632 240" style="stroke-width:2"/>
<path d="M655 0 L655 632"/>
<path d="M655 70 L720 0"/>
<path d="M765 0 L765 20 M765 235 L765 265" class="k"/>
<path d="M575 225 L655 235 L780 270 L850 340"/>
<path d="M600 440 L850 440"/>
<ellipse cx="740" cy="360" rx="72" ry="62" class="k"/>
<path d="M680 390 Q740 420 800 380"/>
<circle cx="715" cy="340" r="12" class="f"/>
<ellipse cx="740" cy="552" rx="72" ry="62" class="k"/>
<path d="M680 582 Q740 612 800 572"/>
<circle cx="715" cy="532" r="12" class="f"/>
<path d="M670 290 L670 320 M670 480 L670 510" class="k"/>
<ellipse cx="400" cy="450" rx="140" ry="50" class="k"/>
<ellipse cx="400" cy="455" rx="125" ry="38"/>
<path d="M265 450 L535 450" class="g"/>
<circle cx="330" cy="378" r="5" class="f"/><circle cx="403" cy="370" r="9" class="f"/><circle cx="345" cy="490" r="6" class="f"/>
<path d="M215 460 L215 580 L245 610 M245 600 L560 440 M215 460 L260 460"/>
<path d="M215 580 L250 632" class="k"/>
</g>

<g transform="translate(700 320) scale(0.094991)">
<path d="M110 632 Q120 605 150 605 L215 605"/>
<path d="M0 570 L15 632" class="k"/>
</g>

<g transform="translate(700 380) scale(0.094991)">
<path d="M655 0 L655 150 M850 0 L850 150"/>
<ellipse cx="735" cy="92" rx="75" ry="62" class="k"/>
<path d="M680 120 Q740 150 800 110"/>
<circle cx="715" cy="75" r="12" class="f"/>
<path d="M820 10 L850 10 L850 40 L820 40Z"/>
</g>
<g transform="translate(1613.7 0) scale(-1 1) translate(700 380) scale(0.094991)">
<path d="M655 0 L655 150 M850 0 L850 150"/>
<ellipse cx="735" cy="92" rx="75" ry="62" class="k"/>
<path d="M680 120 Q740 150 800 110"/>
<circle cx="715" cy="75" r="12" class="f"/>
<path d="M820 10 L850 10 L850 40 L820 40Z"/>
</g>

<g transform="translate(700 380) scale(0.094991)">
<path d="M20 100 L330 100 Q350 105 352 130 L362 340 L20 340 Q5 330 5 310 L5 115 Q8 102 20 100Z" class="k" style="stroke:#444"/>
<path d="M100 0 L100 100 M120 0 L110 100 M250 30 L250 100"/>
<path d="M250 5 L660 5" class="k"/>
<path d="M250 35 L660 35 M310 5 L310 35"/>
<path d="M352 178 L655 178" style="stroke:#555;stroke-width:3.6"/>
<path d="M0 320 L60 420" class="k"/>
<path d="M40 385 L75 400 L60 425 L35 410Z" class="g"/>
<path d="M655 150 L655 400 M850 150 L850 430"/>
<ellipse cx="735" cy="305" rx="78" ry="65" class="k"/>
<path d="M680 280 Q740 310 800 270"/>
<path d="M820 170 L850 170 L850 192 L820 192Z M820 200 L820 360"/>
<path d="M660 380 L850 380 M850 430 L740 440 L660 400 M740 400 L740 440"/>
</g>

<g transform="translate(830 340) scale(0.157978)">
<path d="M35 370 L130 370 L125 395 L40 400Z" class="k"/>
<path d="M20 400 L130 380"/>
<path d="M130 365 L220 365 M505 365 L633 365" style="stroke:#444;stroke-width:2.6"/>
<path d="M405 180 L475 180 L475 240 L405 240Z" class="k"/>
<ellipse cx="447" cy="210" rx="13" ry="18" class="k"/>
<path d="M415 240 L415 290 M455 240 L465 290 M415 290 L465 290"/>
<path d="M380 270 L380 325 M405 270 L405 325" class="k g"/>
<path d="M140 250 L405 250 M140 270 L405 270 M405 250 L405 270"/>
</g>

<g transform="translate(760 340) scale(0.157978)">
<path d="M296 42 L215 42 L145 130 L138 160 L138 500 L210 605 L296 605"/>
<path d="M296 70 L225 70 L152 155 L148 500 L218 590 L296 590" style="stroke-width:3"/>
<path d="M296 95 L235 95 Q195 130 195 190 Q200 260 180 330 Q160 420 165 480 Q180 560 260 572 L296 572"/>
<path d="M165 175 L192 180 Q196 250 180 315 L165 350Z" class="f" style="fill:#444 !important;stroke:none"/>
<circle cx="213" cy="135" r="4.5" class="f"/><circle cx="207" cy="512" r="4.5" class="f"/>
</g>
<g transform="translate(1613.7 0) scale(-1 1) translate(760 340) scale(0.157978)">
<path d="M296 42 L215 42 L145 130 L138 160 L138 500 L210 605 L296 605"/>
<path d="M296 70 L225 70 L152 155 L148 500 L218 590 L296 590" style="stroke-width:3"/>
<path d="M296 95 L235 95 Q195 130 195 190 Q200 260 180 330 Q160 420 165 480 Q180 560 260 572 L296 572"/>
<path d="M165 175 L192 180 Q196 250 180 315 L165 350Z" class="f" style="fill:#444 !important;stroke:none"/>
<circle cx="213" cy="135" r="4.5" class="f"/><circle cx="207" cy="512" r="4.5" class="f"/>
</g>

<g transform="translate(760 340) scale(0.157978)">
<path d="M296 205 L296 350" class="k"/><path d="M296 350 L296 633"/>
</g>

</g>
<g id="dims">
<text x="171.12" y="36.70" font-size="17.0">Con tubazioni idrauliche</text>
<text x="171.70" y="55.30" font-size="17.0">With hydraulic hose</text>
<path d="M166.5 30.7L166.5 145.0" style="stroke:#000;stroke-width:0.9"/>
<path d="M166.8 145.2L165.3 135.9L168.3 135.9Z" class="a"/>
<path d="M138.7 145.5L380.0 145.5" style="stroke:#000;stroke-width:0.9"/>
<path d="M172.9 148.5L445.0 148.5" style="stroke:#000;stroke-width:0.9"/>
<path d="M145.5 145.3L145.5 247.0" style="stroke:#000;stroke-width:0.9"/>
<path d="M145.5 333.0L145.5 434.4" style="stroke:#000;stroke-width:0.9"/>
<path d="M145.5 145.3L144.0 154.6L147.0 154.6Z" class="a"/>
<path d="M145.5 434.4L144.0 425.1L147.0 425.1Z" class="a"/>
<path d="M179.5 147.9L179.5 247.0" style="stroke:#000;stroke-width:0.9"/>
<path d="M179.5 333.0L179.5 434.4" style="stroke:#000;stroke-width:0.9"/>
<path d="M179.7 147.9L178.2 157.2L181.2 157.2Z" class="a"/>
<path d="M179.7 434.4L178.2 425.1L181.2 425.1Z" class="a"/>
<text class="r" transform="translate(129.90 331.70) rotate(-90)" x="-0.51" y="0.00" font-size="17.0">2580</text>
<text class="r" transform="translate(146.00 340.00) rotate(-90)" x="-1.03 3.13 7.86 17.31 20.56 26.22 35.67 40.40 49.85 54.57 64.03 73.08 72.58" y="0.00" font-size="17.0">( 8'-5 9/16&quot;)</text>
<text class="r" transform="translate(165.70 329.50) rotate(-90)" x="-0.51" y="0.00" font-size="17.0">2553</text>
<text class="r" transform="translate(180.50 337.30) rotate(-90)" x="-1.03 3.13 7.86 17.31 20.56 26.22 35.67 40.40 49.85 54.57 63.63 65.63" y="0.00" font-size="17.0">( 8'-4 1/2&quot;)</text>
<path d="M138.6 434.5L515.5 434.5" style="stroke:#000;stroke-width:0.9"/>
<path d="M199.5 70.9L199.5 434.4" style="stroke:#000;stroke-width:0.9"/>
<path d="M482.5 70.9L482.5 440.0" style="stroke:#000;stroke-width:0.9"/>
<path d="M199.4 76.5L301.8 76.5" style="stroke:#000;stroke-width:0.9"/>
<path d="M378.7 76.5L482.1 76.5" style="stroke:#000;stroke-width:0.9"/>
<path d="M199.4 76.8L208.7 75.3L208.7 78.3Z" class="a"/>
<path d="M482.1 76.8L472.8 75.3L472.8 78.3Z" class="a"/>
<text x="314.89" y="75.80" font-size="17.0">2521</text>
<text x="306.17 310.33 315.06 324.51 327.76 333.42 342.87 347.60 357.05 361.77 370.83 372.13" y="90.60" font-size="17.0">( 8'-3 1/4&quot;)</text>
<path d="M387.5 113.6L387.5 483.4" style="stroke:#000;stroke-width:0.9"/>
<path d="M449.5 113.6L449.5 173.0" style="stroke:#000;stroke-width:0.9"/>
<path d="M373.5 120.5L449.1 120.5" style="stroke:#000;stroke-width:0.9"/>
<path d="M387.5 120.0L396.8 118.5L396.8 121.5Z" class="a"/>
<path d="M449.1 120.0L439.8 118.5L439.8 121.5Z" class="a"/>
<text x="308.59" y="118.00" font-size="17.0">550</text>
<text x="299.17 303.33 308.06 317.51 320.76 326.42 335.87 340.60 350.05 354.77 363.83 365.13" y="134.40" font-size="17.0">( 1'-9 5/8&quot;)</text>
<path d="M340.5 425.0L340.5 548.7" style="stroke:#000;stroke-width:0.9"/>
<path d="M333.0 477.5L387.6 477.5" style="stroke:#000;stroke-width:0.9"/>
<path d="M340.6 477.0L349.9 475.5L349.9 478.5Z" class="a"/>
<path d="M387.6 477.0L378.3 475.5L378.3 478.5Z" class="a"/>
<text x="264.08" y="475.80" font-size="17.0">420</text>
<text x="254.57 258.73 263.46 272.91 276.16 281.82 291.27 296.00 305.45 310.17 319.63 328.68 326.78" y="491.00" font-size="17.0">( 1'-4 9/16&quot;)</text>
<path d="M210.5 466.0L210.5 548.7" style="stroke:#000;stroke-width:0.9"/>
<path d="M210.6 541.5L232.0 541.5" style="stroke:#000;stroke-width:0.9"/>
<path d="M320.7 541.5L362.2 541.5" style="stroke:#000;stroke-width:0.9"/>
<path d="M210.6 541.9L219.9 540.4L219.9 543.4Z" class="a"/>
<path d="M340.6 541.9L331.3 540.4L331.3 543.4Z" class="a"/>
<path d="M340.6 541.9L349.9 540.4L349.9 543.4Z" class="a"/>
<text x="245.85" y="540.90" font-size="17.0">1160</text>
<text x="235.77 239.93 244.66 254.11 257.36 263.02 272.47 277.20 286.65 296.10 300.83 310.28 319.33 310.73" y="556.00" font-size="17.0">( 3'-9 11/16&quot;)</text>
<text x="235.77" y="573.90" font-size="17.0">(+3645)</text>
<text x="235.77" y="591.60" font-size="17.0">(+11'-11 1/2&quot;)</text>
<path d="M450.0 541.5L470.4 541.5" style="stroke:#000;stroke-width:0.9"/>
<path d="M470.4 541.9L461.1 540.4L461.1 543.4Z" class="a"/>
<text x="374.95" y="540.90" font-size="17.0">1160</text>
<text x="365.87 370.03 374.76 384.21 387.46 393.12 402.57 407.30 416.75 426.20 430.93 440.38 449.43 440.83" y="556.00" font-size="17.0">( 3'-9 11/16&quot;)</text>
<text x="365.87" y="573.90" font-size="17.0">(+4140)</text>
<text x="365.87" y="591.60" font-size="17.0">(+13'-7&quot;)</text>
<path d="M509.5 425.0L509.5 519.4" style="stroke:#000;stroke-width:0.9"/>
<path d="M509.8 434.4L508.3 443.7L511.3 443.7Z" class="a"/>
<path d="M509.8 519.4L508.3 510.1L511.3 510.1Z" class="a"/>
<text class="r" transform="translate(496.10 423.40) rotate(-90)" x="-0.78" y="0.00" font-size="17.0">760</text>
<text class="r" transform="translate(511.20 432.10) rotate(-90)" x="-1.03 3.13 7.86 17.31 20.56 26.22 35.67 40.40 49.85 54.57 63.63 68.23" y="0.00" font-size="17.0">( 2'-5 7/8&quot;)</text>
<path d="M483.0 519.5L539.4 519.5" style="stroke:#000;stroke-width:0.9"/>
<path d="M483.8 575.5L539.4 575.5" style="stroke:#000;stroke-width:0.9"/>
<path d="M533.5 510.0L533.5 575.4" style="stroke:#000;stroke-width:0.9"/>
<path d="M533.6 519.6L532.1 528.9L535.1 528.9Z" class="a"/>
<path d="M533.6 575.4L532.1 566.1L535.1 566.1Z" class="a"/>
<text class="r" transform="translate(519.40 507.80) rotate(-90)" x="-0.71" y="0.00" font-size="17.0">500</text>
<text class="r" transform="translate(534.30 517.00) rotate(-90)" x="-1.03 3.13 7.86 17.31 20.56 26.22 35.67 40.40 49.85 59.30 64.03 73.48 82.53 73.93" y="0.00" font-size="17.0">( 1'-7 11/16&quot;)</text>
<path d="M254.7 607.5L270.0 607.5" style="stroke:#e4e4e4;stroke-width:1"/>
<path d="M390.8 607.5L537.7 607.5" style="stroke:#e4e4e4;stroke-width:1"/>
<text x="730.42" y="59.90" font-size="17.0">Ingombro minimo di montaggio.</text>
<text x="730.74" y="78.30" font-size="17.0">Minimum space required for installation.</text>
<path d="M727.2 53.5L650 62.7L688.3 82.5"/>
<path d="M688.3 82.5L680.6 80.2L682.2 77.4Z" class="f" style="stroke:none"/>
<path d="M625.5 94.6L625.5 541.7" style="stroke:#000;stroke-width:0.9"/>
<path d="M899.5 94.5L899.5 155.3" style="stroke:#000;stroke-width:0.9"/>
<path d="M625.7 101.5L725.5 101.5" style="stroke:#000;stroke-width:0.9"/>
<path d="M799.5 101.5L899.2 101.5" style="stroke:#000;stroke-width:0.9"/>
<path d="M625.7 101.1L635.0 99.6L635.0 102.6Z" class="a"/>
<path d="M899.2 101.1L889.9 99.6L889.9 102.6Z" class="a"/>
<text x="738.99" y="99.00" font-size="17.0">2441</text>
<text x="729.27 733.43 738.16 747.61 750.86 756.52 765.97 770.70 780.15 789.20 791.20" y="114.60" font-size="17.0">( 8'-3/32&quot;)</text>
<text x="657.59" y="181.30" font-size="17.0">Opzione</text>
<text x="657.59" y="199.50" font-size="17.0">Option</text>
<path d="M662.2 206.1L688.8 296.4" style="stroke:#000;stroke-width:0.9"/>
<path d="M688.8 296.4L684.6 287.6L687.6 286.7Z" class="a"/>
<path d="M950.5 380.0L950.5 434.0" style="stroke:#000;stroke-width:0.9"/>
<path d="M950.7 397.8L949.2 407.1L952.2 407.1Z" class="a"/>
<path d="M950.7 434.0L949.2 424.7L952.2 424.7Z" class="a"/>
<text class="r" transform="translate(937.30 378.60) rotate(-90)" x="-0.71" y="0.00" font-size="17.0">335</text>
<text class="r" transform="translate(952.10 388.20) rotate(-90)" x="-1.03 3.13 7.86 17.31 20.56 26.22 35.67 40.40 49.85 54.57 64.03 73.08 67.48" y="0.00" font-size="17.0">( 1'-1 3/16&quot;)</text>
<path d="M607.0 535.5L695.6 535.5" style="stroke:#000;stroke-width:0.9"/>
<path d="M625.7 535.6L616.4 534.1L616.4 537.1Z" class="a"/>
<path d="M656.0 535.6L665.3 534.1L665.3 537.1Z" class="a"/>
<text x="708.99" y="533.50" font-size="17.0">268</text>
<text x="699.37 703.53 708.26 717.71 727.16 731.89 741.34 746.07 755.52 764.57 761.67" y="549.00" font-size="17.0">( 10 9/16&quot;)</text>
<path d="M655.5 518.6L655.5 595.1" style="stroke:#000;stroke-width:0.9"/>
<path d="M806.5 430.0L806.5 595.1" style="stroke:#000;stroke-width:0.9"/>
<path d="M1031.5 430.8L1031.5 595.1" style="stroke:#000;stroke-width:0.9"/>
<path d="M655.9 589.5L689.8 589.5" style="stroke:#000;stroke-width:0.9"/>
<path d="M772.0 589.5L879.0 589.5" style="stroke:#000;stroke-width:0.9"/>
<path d="M959.3 589.5L1031.0 589.5" style="stroke:#000;stroke-width:0.9"/>
<path d="M655.9 589.2L665.2 587.7L665.2 590.7Z" class="a"/>
<path d="M806.8 589.2L797.5 587.7L797.5 590.7Z" class="a"/>
<path d="M806.8 589.2L816.1 587.7L816.1 590.7Z" class="a"/>
<path d="M1031.0 589.2L1021.7 587.7L1021.7 590.7Z" class="a"/>
<text x="703.15" y="587.10" font-size="17.0">1347</text>
<text x="694.07 698.23 702.96 712.41 715.66 721.32 730.77 735.50 744.95 749.67 759.13 768.18 765.28" y="602.70" font-size="17.0">( 4'-5 1/16&quot;)</text>
<text x="892.29" y="587.10" font-size="17.0">2000</text>
<text x="883.07 887.23 891.96 901.41 904.66 910.32 919.77 924.50 933.95 938.67 947.73 951.13" y="602.70" font-size="17.0">( 6'-6 3/4&quot;)</text>
<path d="M201.5 475.3L201.5 507.8" style="stroke:#000;stroke-width:1.3"/>
<path d="M220.5 488.7L220.5 507.8" style="stroke:#000;stroke-width:1.3"/>
<path d="M201.2 507.8L220.3 507.8" style="stroke:#000;stroke-width:1.4"/>
<path d="M204.8 508 L204.8 519 L216.5 519 L216.5 508"/>
<path d="M204.8 510.5L216.5 510.5" style="stroke:#555;stroke-width:1.2"/>
<path d="M197.4 520.0L223.4 520.0" style="stroke:#000;stroke-width:2.4"/>
<path d="M461.5 440.0L461.5 506.9" style="stroke:#000;stroke-width:0.9"/>
<path d="M480.5 440.0L480.5 506.9" style="stroke:#000;stroke-width:0.9"/>
<path d="M461.2 506.5L480.0 506.5" style="stroke:#000;stroke-width:1.2"/>
<path d="M464.7 507 L464.7 517.3 L476.5 517.3 L476.5 507"/>
<path d="M464.7 509.5L476.5 509.5" style="stroke:#555;stroke-width:1.5"/>
<path d="M458.0 519.4L483.0 519.4" style="stroke:#000;stroke-width:1.5"/>
<path d="M464.5 523.0L464.5 563.4" style="stroke:#000;stroke-width:1.3"/>
<path d="M476.5 523.0L476.5 563.4" style="stroke:#000;stroke-width:1.3"/>
<path d="M470.5 535.4L470.5 575.0" style="stroke:#000;stroke-width:0.9"/>
<path d="M464.6 563.4 L464.6 574.2 L476.6 574.2 L476.6 563.4Z"/>
<path d="M464.6 565.0L476.6 565.0" style="stroke:#555;stroke-width:1.6"/>
<path d="M458.0 575.1L483.8 575.1" style="stroke:#000;stroke-width:2.5"/>
<path d="M637.0 434.2L1030.0 434.2" style="stroke:#000;stroke-width:1.4"/>
<path d="M909.0 397.8L975.0 397.8" style="stroke:#000;stroke-width:2.0"/>
<path d="M975.0 397.5L1000.4 397.5" style="stroke:#000;stroke-width:1.2"/>
<path d="M1000.4 397.8L1031.2 430.8L1029.5 434"/>
<ellipse cx="991.5" cy="408.2" rx="7" ry="3.5" class="k"/>
<ellipse cx="983" cy="424.9" rx="7" ry="3.5" class="k"/>
<ellipse cx="1008.6" cy="424.9" rx="7" ry="3.5" class="k"/>
<circle cx="935.2" cy="416.4" r="0.6" class="f"/>
<path d="M864.3 391.2H909.9V414.8H864.3Z" class="w"/>
<path d="M868 394.8H888.3V411.4H868Z" class="k"/>
<rect x="896.8" y="402.1" width="4" height="10.5" rx="2"/>
<path d="M646.5 440.0L646.5 506.9" style="stroke:#000;stroke-width:0.9"/>
<path d="M665.5 440.0L665.5 506.9" style="stroke:#000;stroke-width:0.9"/>
<path d="M646.6 506.5L665.7 506.5" style="stroke:#000;stroke-width:1.2"/>
<path d="M649.5 507 L649.5 517.4 L662 517.4 L662 507"/>
<path d="M649.5 509.5L662.0 509.5" style="stroke:#555;stroke-width:1.5"/>
<path d="M643.4 518.6L668.6 518.6" style="stroke:#000;stroke-width:1.7"/>
</g>
</svg>
</body></html>
